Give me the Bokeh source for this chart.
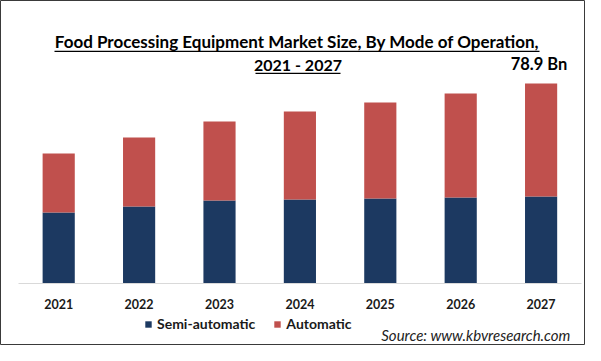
from bokeh.plotting import figure
from bokeh.models import (ColumnDataSource, Range1d, Label, BoxAnnotation,
                          FixedTicker)
from bokeh.embed import file_html
from bokeh.resources import INLINE

years = ["2021", "2022", "2023", "2024", "2025", "2026", "2027"]
semi_automatic = [28.0, 30.4, 32.7, 33.1, 33.5, 33.9, 34.3]
automatic = [23.3, 27.2, 31.2, 34.8, 37.9, 41.1, 44.6]
series_names = ["Semi-automatic", "Automatic"]
colors = ["#1c3961", "#c0504d"]
title_line1 = "Food Processing Equipment Market Size, By Mode of Operation,"
title_line2 = "2021 - 2027"
source_text = "Source: www.kbvresearch.com"

FONT = "Lato"
W, H = 585, 345

pos = list(range(len(years)))
src = ColumnDataSource(dict(x=pos, year=years, semi=semi_automatic, auto=automatic))

# layout: category pitch 80.4 px, first category centred 58 px from the left,
# value baseline 283 px from the top, 0.3945 value units per pixel
pitch = 80.4
x0 = -0.5 - 18 / pitch
x_range = Range1d(x0, x0 + W / pitch)
vpp = 0.3945
y_range = Range1d(-(H - 283) * vpp, 283 * vpp)

p = figure(width=W, height=H, x_range=x_range, y_range=y_range,
           output_backend="svg", toolbar_location=None, title=None,
           y_axis_location=None, min_border_left=0, min_border_right=0,
           min_border_top=0, min_border_bottom=0)
p.outline_line_color = "#3a3a3a"
p.outline_line_width = 1
p.background_fill_color = "white"
p.border_fill_color = "white"
p.xgrid.visible = False
p.ygrid.visible = False

p.vbar_stack(["semi", "auto"], x="x", width=0.4, color=colors, source=src,
             legend_label=series_names, line_color=None)

ax = p.xaxis[0]
ax.fixed_location = 0
ax.bounds = (-0.5, 6.5)
ax.ticker = FixedTicker(ticks=pos)
ax.major_label_overrides = {i: y for i, y in zip(pos, years)}
ax.axis_line_color = "#d9d9d9"
ax.axis_line_width = 1
ax.major_tick_line_color = None
ax.minor_tick_line_color = None
ax.major_tick_out = 0
ax.major_tick_in = 0
ax.major_label_standoff = 15
ax.major_label_text_font = FONT
ax.major_label_text_font_style = "bold"
ax.major_label_text_font_size = "12.5px"
ax.major_label_text_color = "#1a1a1a"

leg = p.legend[0]
leg.orientation = "horizontal"
leg.location = (144, 13)
leg.border_line_color = None
leg.background_fill_alpha = 0
leg.padding = 0
leg.margin = 0
leg.spacing = 18
leg.glyph_width = 8
leg.glyph_height = 8
leg.label_standoff = 5
leg.label_text_font = FONT
leg.label_text_font_style = "bold"
leg.label_text_font_size = "14px"
leg.label_text_color = "#1a1a1a"


def add_label(text, x, y, size, style="bold", align="center", color="black"):
    p.add_layout(Label(x=x, y=y, x_units="screen", y_units="screen", text=text,
                       text_font=FONT, text_font_style=style,
                       text_font_size=size, text_align=align,
                       text_baseline="middle", text_color=color))


# screen units: from the frame's bottom-left corner (= canvas bottom-left);
# y values below are measured from the top, converted with H - y
add_label(title_line1, 296.5, H - 41, "17px")
add_label(title_line2, 297.5, H - 63.5, "16px")
total_2027 = semi_automatic[-1] + automatic[-1]
add_label(f"{total_2027:.1f} Bn", 538.5, H - 63.5, "16.5px")
add_label(source_text, 570, H - 334.5, "15px", style="italic", align="right",
          color="#222222")

# underlines of the title
for l, r, y in [(54, 539, H - 50.8), (255, 340, H - 72.8)]:
    p.add_layout(BoxAnnotation(left=l, right=r, bottom=y - 0.65, top=y + 0.65,
                               left_units="screen", right_units="screen",
                               top_units="screen", bottom_units="screen",
                               fill_color="black", fill_alpha=1, line_color=None))

open("out.html", "w").write(file_html(p, INLINE))
